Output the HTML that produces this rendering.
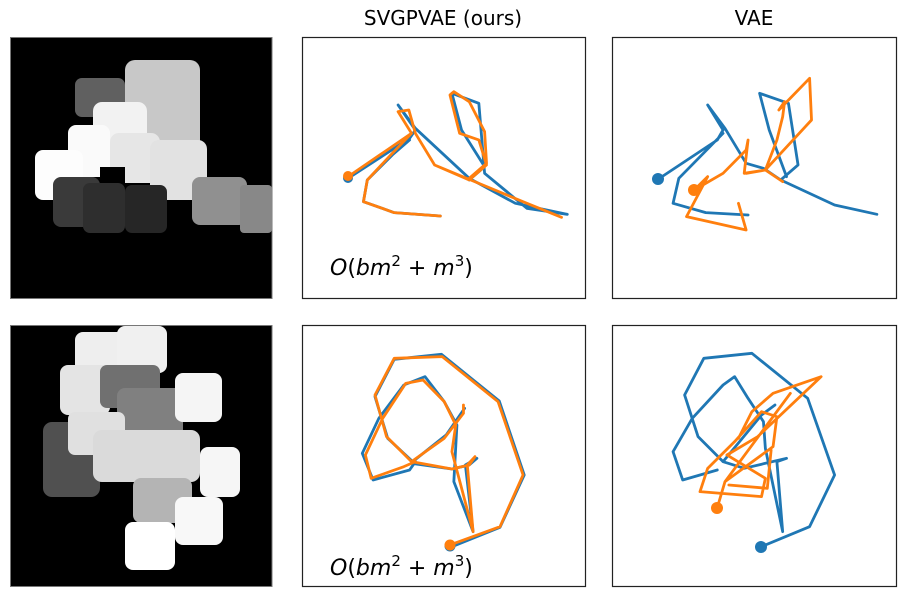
<!DOCTYPE html>
<html><head><style>
body{margin:0;background:#fff;width:900px;height:600px;overflow:hidden}
svg{display:block}
text{font-family:"DejaVu Sans","Liberation Sans",sans-serif}
</style></head><body>
<svg width="900" height="600" viewBox="0 0 900 600" xmlns="http://www.w3.org/2000/svg">
<text x="443" y="25" font-size="20" text-anchor="middle">SVGPVAE (ours)</text>
<text x="754" y="25" font-size="20" text-anchor="middle">VAE</text>

<rect x="10.5" y="37.5" width="261.5" height="261" fill="#000" stroke="#777" stroke-width="1"/>
<g>
<rect x="75" y="78" width="50" height="39" rx="7" fill="#606060"/>
<rect x="125" y="60" width="75" height="90" rx="10" fill="#c8c8c8"/>
<rect x="93" y="102" width="54" height="61" rx="9" fill="#f2f2f2"/>
<rect x="68" y="125" width="42" height="52" rx="8" fill="#fafafa"/>
<rect x="110" y="133" width="50" height="50" rx="9" fill="#e6e6e6"/>
<rect x="150" y="140" width="57" height="60" rx="9" fill="#e2e2e2"/>
<rect x="35" y="150" width="48" height="50" rx="8" fill="#fdfdfd"/>
<rect x="53" y="177" width="47" height="50" rx="8" fill="#3a3a3a"/>
<rect x="83" y="183" width="42" height="50" rx="7" fill="#2e2e2e"/>
<rect x="125" y="185" width="42" height="48" rx="7" fill="#262626"/>
<rect x="192" y="177" width="55" height="48" rx="8" fill="#909090"/>
<rect x="240" y="185" width="32" height="48" rx="4" fill="#888"/>
<rect x="100" y="167" width="25" height="16" fill="#000"/>
</g>

<rect x="10.5" y="325.5" width="261.5" height="261" fill="#000" stroke="#777" stroke-width="1"/>
<g>
<rect x="75" y="332" width="50" height="46" rx="8" fill="#eee"/>
<rect x="117" y="326" width="50" height="47" rx="8" fill="#f0f0f0"/>
<rect x="60" y="365" width="50" height="50" rx="8" fill="#e4e4e4"/>
<rect x="100" y="365" width="60" height="43" rx="7" fill="#707070"/>
<rect x="117" y="388" width="66" height="50" rx="8" fill="#808080"/>
<rect x="175" y="373" width="47" height="49" rx="8" fill="#f5f5f5"/>
<rect x="43" y="422" width="57" height="75" rx="9" fill="#505050"/>
<rect x="68" y="412" width="57" height="43" rx="7" fill="#e0e0e0"/>
<rect x="93" y="430" width="107" height="52" rx="9" fill="#dadada"/>
<rect x="133" y="478" width="59" height="45" rx="8" fill="#b4b4b4"/>
<rect x="200" y="447" width="40" height="50" rx="8" fill="#f6f6f6"/>
<rect x="175" y="497" width="48" height="48" rx="8" fill="#f8f8f8"/>
<rect x="125" y="522" width="50" height="48" rx="8" fill="#fff"/>
</g>

<rect x="302.5" y="37.5" width="283" height="261" fill="none" stroke="#222" stroke-width="1.2"/>
<rect x="612.5" y="37.5" width="284" height="261" fill="none" stroke="#222" stroke-width="1.2"/>
<rect x="302.5" y="325.5" width="283" height="261" fill="none" stroke="#222" stroke-width="1.2"/>
<rect x="612.5" y="325.5" width="284" height="261" fill="none" stroke="#222" stroke-width="1.2"/>

<g fill="none" stroke-width="2.8" stroke-linejoin="round" stroke-linecap="round">
<g transform="translate(300,30) scale(0.3846,0.3333)">
<path vector-effect="non-scaling-stroke" stroke="#1f77b4" d="M125,445 L285,325 L300,300 L255,225 L300,295 L440,445 L560,520 L695,553 L590,535 L480,430 L465,220 L395,190 L420,300 L480,410 L440,450 M285,330 L240,375 L175,450 L165,515 L245,548 L365,558"/>
<path vector-effect="non-scaling-stroke" stroke="#ff7f0e" d="M125,440 L290,310 L255,245 L283,240 L300,310 L350,405 L440,450 L485,405 L465,330 L415,310 L390,195 L400,185 L440,215 L480,305 L485,400 L440,445 M350,405 L590,520 L680,562 M290,310 L240,370 L175,450 L165,515 L245,548 L365,558"/>
<path vector-effect="non-scaling-stroke" stroke="#1f77b4" d="M932,447 L1085,330 L1100,300 L1060,225 L1105,295 L1160,400 L1205,415 L1250,450 L1390,525 L1500,553 M1250,450 L1295,405 L1270,220 L1195,190 L1220,300 L1265,440 M1100,310 L985,445 L970,520 L1055,548 L1165,555"/>
<path vector-effect="non-scaling-stroke" stroke="#ff7f0e" d="M1025,480 L1100,430 L1160,360 L1165,330 L1155,430 L1210,420 L1255,455 M1210,420 L1330,270 L1325,145 L1245,240 L1260,215 L1255,260 L1240,330 L1210,420 L1160,430 M1025,480 L1060,440 L1005,560 L1160,600 L1140,520"/>
</g>
<circle cx="348" cy="178" r="5" fill="#1f77b4" stroke="none"/>
<circle cx="348" cy="176" r="5" fill="#ff7f0e" stroke="none"/>
<circle cx="658" cy="179" r="6" fill="#1f77b4" stroke="none"/>
<circle cx="694" cy="190" r="6" fill="#ff7f0e" stroke="none"/>

<g transform="translate(300,315) scale(0.3846,0.3333)">
<path vector-effect="non-scaling-stroke" stroke="#1f77b4" d="M395,695 L520,637 L583,480 L518,258 L368,118 L245,133 L195,245 L228,370 L293,440 L380,360 L428,280 M450,650 L430,450 L460,430 L440,450 L395,462 L290,445 M450,650 L400,500 L408,330 L375,260 L325,185 L270,210 L205,310 L162,415 L190,495 L285,465 L300,440"/>
<path vector-effect="non-scaling-stroke" stroke="#ff7f0e" d="M390,690 L520,635 L580,480 L515,260 L370,125 L245,130 L195,240 L225,365 L290,440 L375,370 L425,295 L425,270 M450,650 L435,450 L455,425 L440,450 L395,462 L290,440 M450,650 L395,410 L405,330 L375,260 L320,195 L275,205 L215,310 L170,420 L185,490 L270,455 L300,440"/>
<path vector-effect="non-scaling-stroke" stroke="#1f77b4" d="M1200,695 L1325,635 L1390,480 L1320,250 L1175,115 L1050,130 L1000,240 L1035,365 L1100,440 L1200,300 L1235,270 M1255,650 L1240,440 L1265,430 L1155,460 L1100,440 M1255,650 L1210,400 L1205,320 L1165,250 L1130,185 L1100,210 L1020,310 L970,410 L995,495 L1085,465"/>
<path vector-effect="non-scaling-stroke" stroke="#ff7f0e" d="M1085,578 L1105,500 L1230,395 L1240,305 L1200,290 L1130,380 L1060,460 L1040,530 L1200,545 L1210,490 L1110,420 L1190,365 L1355,185 L1230,235 L1175,290 L1140,370 M1105,500 L1275,235 M1115,510 L1215,520 L1225,405"/>
</g>
<circle cx="450" cy="546" r="5.5" fill="#1f77b4" stroke="none"/>
<circle cx="450" cy="545" r="5.5" fill="#ff7f0e" stroke="none"/>
<circle cx="761" cy="547" r="6" fill="#1f77b4" stroke="none"/>
<circle cx="717" cy="508" r="6" fill="#ff7f0e" stroke="none"/>
</g>

<text x="330" y="275" font-size="22" font-style="italic">O<tspan font-style="normal">(</tspan>bm<tspan font-style="normal" font-size="15" dy="-9">2</tspan><tspan font-style="normal" dy="9"> + </tspan>m<tspan font-style="normal" font-size="15" dy="-9">3</tspan><tspan font-style="normal" dy="9">)</tspan></text>
<text x="330" y="575" font-size="22" font-style="italic">O<tspan font-style="normal">(</tspan>bm<tspan font-style="normal" font-size="15" dy="-9">2</tspan><tspan font-style="normal" dy="9"> + </tspan>m<tspan font-style="normal" font-size="15" dy="-9">3</tspan><tspan font-style="normal" dy="9">)</tspan></text>
</svg>
</body></html>
